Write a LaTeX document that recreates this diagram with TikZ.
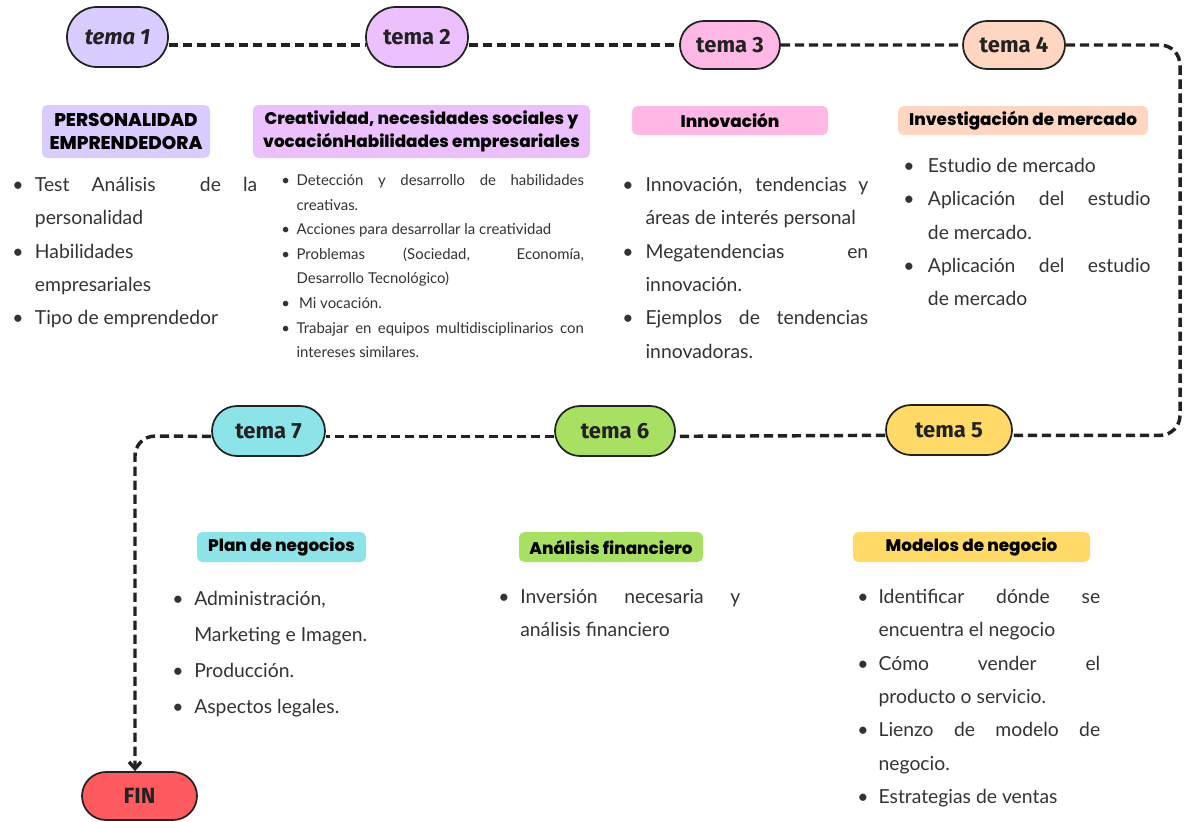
\documentclass[tikz,border=0pt]{standalone}
\usepackage{fontspec}
\usepackage{tikz}
\usetikzlibrary{shapes.misc,arrows.meta}
\setmainfont{Lato}
\newfontfamily\headfont{Poppins}[BoldFont={Poppins ExtraBold}]
\newfontfamily\pillfont{Fira Sans}

\definecolor{lavender}{HTML}{D9CCFF}
\definecolor{lilac}{HTML}{ECC0FC}
\definecolor{rosa}{HTML}{FFB8E6}
\definecolor{peach}{HTML}{FFD6C2}
\definecolor{amarillo}{HTML}{FFDA66}
\definecolor{verde}{HTML}{A8E061}
\definecolor{celeste}{HTML}{8CE3E8}
\definecolor{rojo}{HTML}{FF5A5F}
\definecolor{ink}{HTML}{222222}
\definecolor{bodygray}{HTML}{333333}

\newlength\bulind
\newcommand{\bitem}[1]{\par\noindent\hangindent=\bulind\hangafter=1\makebox[\bulind][l]{\textbullet}#1\par}

\begin{document}
\begin{tikzpicture}[x=0.75pt,y=-0.75pt,
    pill/.style={rounded rectangle,draw=ink,line width=1.3pt,inner sep=0pt,
        font=\pillfont\fontsize{16.5}{18}\selectfont\bfseries,text=ink},
    head/.style={rounded corners=4pt,inner sep=0pt,align=center,
        font=\headfont\fontsize{12.6}{17.5}\selectfont\bfseries,text=black},
    biglist/.style={anchor=north west,inner sep=0pt,align=justify,text=bodygray,
        font=\fontsize{14.5}{25}\selectfont},
    dashline/.style={draw=ink,line width=2.6pt,dash pattern=on 7pt off 3.5pt}]
    \useasboundingbox (0,0) rectangle (1184,821);

    % Pills
    \node[pill,fill=lavender,minimum width=75.75pt,minimum height=45pt] (t1) at (117.5,37) {\itshape tema 1};
    \node[pill,fill=lilac,minimum width=76.5pt,minimum height=45pt] (t2) at (417,37) {tema 2};
    \node[pill,fill=rosa,minimum width=75pt,minimum height=36pt] (t3) at (730,45) {tema 3};
    \node[pill,fill=peach,minimum width=76.5pt,minimum height=36pt] (t4) at (1014,45) {tema 4};
    \node[pill,fill=amarillo,minimum width=94.5pt,minimum height=37.5pt] (t5) at (949,430) {tema 5};
    \node[pill,fill=verde,minimum width=90pt,minimum height=37.5pt] (t6) at (615,431) {tema 6};
    \node[pill,fill=celeste,minimum width=84.75pt,minimum height=37.5pt] (t7) at (268.5,431) {tema 7};
    \node[pill,fill=rojo,minimum width=86.25pt,minimum height=36pt] (fin) at (139.5,796) {FIN};

    % Dashed path
    \coordinate (ne) at (1180,45);
    \coordinate (t5in) at ([yshift=-4pt]t5.east);
    \coordinate (t7out) at ([yshift=-4pt]t7.west);
    \coordinate (sw) at (135,436);
    \draw[dashline] ([yshift=-6pt]t1.east) -- ([yshift=-6pt]t2.west);
    \draw[dashline] ([yshift=-6pt]t2.east) -- (t3.west);
    \draw[dashline] (t3) -- (t4);
    \draw[dashline,rounded corners=15pt] (t4.east) -- (ne) -- (ne |- t5in) -- (t5in);
    \draw[dashline] ([yshift=-4pt]t5.west) -- ([yshift=-4pt]t6.east);
    \draw[dashline] ([yshift=-4pt]t6.west) -- ([yshift=-4pt]t7.east);
    \draw[dashline,rounded corners=15pt,-{Straight Barb[length=5pt,width=9pt]}] (t7out) -- (sw) -- (sw |- fin.north);

    % Headers
    \node[head,fill=lavender,minimum width=126pt,minimum height=39.75pt,font=\headfont\fontsize{13.8}{17.5}\selectfont\bfseries] (h1) at (126,131.5) {PERSONALIDAD\\EMPRENDEDORA};
    \node[head,fill=lilac,minimum width=252.75pt,minimum height=39.75pt] (h2) at (421.5,131.5) {Creatividad, necesidades sociales y\\vocaciónHabilidades empresariales};
    \node[head,fill=rosa,minimum width=147pt,minimum height=21.75pt] (h3) at (730,120.5) {Innovación};
    \node[head,fill=peach,minimum width=187.5pt,minimum height=21.75pt] (h4) at (1023,120.5) {Investigación de mercado};
    \node[head,fill=celeste,minimum width=126.75pt,minimum height=22.5pt] (h7) at (281.5,547) {Plan de negocios};
    \node[head,fill=verde,minimum width=138pt,minimum height=22.5pt] (h6) at (611,547) {Análisis financiero};
    \node[head,fill=amarillo,minimum width=177.75pt,minimum height=22.5pt] (h5) at (971.5,547) {Modelos de negocio};

    % Lists
    \node[biglist,text width=183.75pt] (l1) at (12,158) {\setlength\bulind{17pt}%
        \bitem{Test Análisis \ de la\linebreak personalidad}
        \bitem{Habilidades\newline empresariales}
        \bitem{Tipo de emprendedor}};
    \node[biglist,text width=227pt,font=\fontsize{11.2}{18.4}\selectfont] (l2) at (281,161) {\setlength\bulind{11.5pt}%
        \bitem{Detección y desarrollo de habilidades\linebreak creativas.}
        \bitem{Acciones para desarrollar la creatividad}
        \bitem{Problemas (Sociedad, Economía,\linebreak Desarrollo Tecnológico)}
        \bitem{\,Mi vocación.}
        \bitem{Trabajar en equipos multidisciplinarios con\linebreak intereses similares.}};
    \node[biglist,text width=184.5pt] (l3) at (622,158) {\setlength\bulind{17.5pt}%
        \bitem{Innovación, tendencias y\linebreak áreas de interés personal}
        \bitem{Megatendencias en\linebreak innovación.}
        \bitem{Ejemplos de tendencias\linebreak innovadoras.}};
    \node[biglist,text width=185.5pt] (l4) at (903,139) {\setlength\bulind{18.5pt}%
        \bitem{Estudio de mercado}
        \bitem{Aplicación del estudio\linebreak de mercado.}
        \bitem{Aplicación del estudio\linebreak de mercado}};
    \node[biglist,text width=183pt,font=\fontsize{14.5}{27}\selectfont] (l7) at (172,569) {\setlength\bulind{16.5pt}%
        \bitem{Administración,\newline Marketing e Imagen.}
        \bitem{Producción.}
        \bitem{Aspectos legales.}};
    \node[biglist,text width=181.5pt] (l6) at (498,570) {\setlength\bulind{16.5pt}%
        \bitem{Inversión necesaria y\linebreak análisis financiero}};
    \node[biglist,text width=182.25pt] (l5) at (857,570) {\setlength\bulind{16pt}%
        \bitem{Identificar dónde se\linebreak encuentra el negocio}
        \bitem{Cómo vender el\linebreak producto o servicio.}
        \bitem{Lienzo de modelo de\linebreak negocio.}
        \bitem{Estrategias de ventas}};
\end{tikzpicture}
\end{document}
